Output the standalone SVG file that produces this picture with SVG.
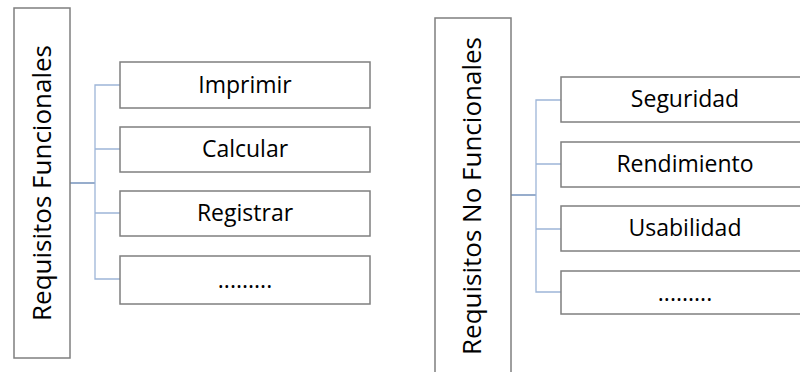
<svg xmlns="http://www.w3.org/2000/svg" width="800" height="372" viewBox="0 0 800 372">
<style>
.box{fill:#fff;stroke:#7f7f7f;stroke-width:1.5}
.t{font-family:"Open Sans","Liberation Sans",Arial,sans-serif;font-size:23px;fill:#000;text-anchor:middle;dominant-baseline:central}
.v{font-size:26px}
.c{fill:none;stroke:#9db5d8;stroke-width:1.3}
.trunk{fill:none;stroke:#5f80b0;stroke-width:1.3}
</style>
<rect width="800" height="372" fill="#fff"/>
<g id="connectors">
<path class="trunk" d="M70 183H95"/>
<path class="c" d="M120 85H95V279H120M95 149H120M95 213H120"/>
<path class="trunk" d="M511 195H536"/>
<path class="c" d="M561 100H536V292H561M536 164H561M536 229H561"/>
</g>
<g id="rf">
<rect class="box" x="14" y="8" width="56" height="350"/>
<text class="t v" transform="translate(41 183) rotate(-90)">Requisitos Funcionales</text>
</g>
<g id="imprimir"><rect class="box" x="120" y="62" width="250" height="46"/><text class="t" x="245" y="84">Imprimir</text></g>
<g id="calcular"><rect class="box" x="120" y="127" width="250" height="45"/><text class="t" x="245" y="148">Calcular</text></g>
<g id="registrar"><rect class="box" x="120" y="191" width="250" height="45"/><text class="t" x="245" y="212">Registrar</text></g>
<g id="dots1"><rect class="box" x="120" y="256" width="250" height="48"/><text class="t" x="245" y="279">.........</text></g>
<g id="rnf">
<rect class="box" x="435" y="18" width="76" height="360"/>
<text class="t v" transform="translate(471 196) rotate(-90)">Requisitos No Funcionales</text>
</g>
<g id="seguridad"><rect class="box" x="561" y="77" width="250" height="45"/><text class="t" x="685" y="98">Seguridad</text></g>
<g id="rendimiento"><rect class="box" x="561" y="142" width="250" height="45"/><text class="t" x="685" y="163">Rendimiento</text></g>
<g id="usabilidad"><rect class="box" x="561" y="206" width="250" height="45"/><text class="t" x="685" y="227">Usabilidad</text></g>
<g id="dots2"><rect class="box" x="561" y="271" width="250" height="43"/><text class="t" x="685" y="292">.........</text></g>
</svg>
